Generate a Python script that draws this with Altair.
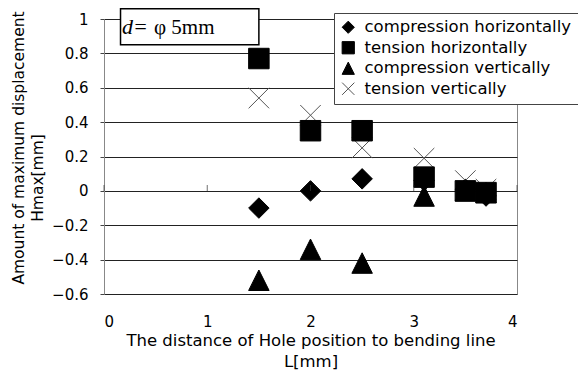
import altair as alt
import pandas as pd

# ---- data ----
L = [1.5, 2.0, 2.5, 3.1, 3.5, 3.7]
comp_h = [-0.10, 0.00, 0.07, 0.06, 0.01, -0.03]
tens_h = [0.77, 0.35, 0.35, 0.08, 0.00, -0.01]
comp_v = [-0.52, -0.34, -0.42, -0.03, 0.00, -0.01]
tens_v = [0.54, 0.44, 0.25, 0.19, 0.06, 0.01]

series = ["compression horizontally", "tension horizontally",
          "compression vertically", "tension vertically"]
x_ticks = [0, 1, 2, 3, 4]
y_ticks = [-0.6, -0.4, -0.2, 0, 0.2, 0.4, 0.6, 0.8, 1.0]

x_title = ["The distance of Hole position to bending line", "L[mm]"]
y_title1 = "Amount of maximum displacement"
y_title2 = "Hmax[mm]"

# annotation box "d = phi 5mm" (data coordinates)
note_box = {"x": [0.16], "x2": [1.50], "y": [1.06], "y2": [0.85]}

# ---- styling ----
shapes = ["M0,-1L1,0L0,1L-1,0Z", "M-1,-1H1V1H-1Z",
          "M0,-1L1,1L-1,1Z", "M-1,-1L1,1M1,-1L-1,1"]
fills = ["black", "black", "black", "transparent"]
strokes = ["black", "black", "black", "#555555"]
SANS = "DejaVu Sans"
FS = 15      # tick labels
FT = 16.5    # x title and legend
FY = 15.5    # y title

# draw order: diamonds, triangles, crosses, squares on top
rows = []
for name, vals in [(series[0], comp_h), (series[2], comp_v),
                   (series[3], tens_v), (series[1], tens_h)]:
    for l, v in zip(L, vals):
        rows.append({"L": l, "H": v, "series": name})
df = pd.DataFrame(rows)

leg = alt.Legend(orient="none", legendX=230, legendY=-6, title=None,
                 strokeColor="#444", fillColor="white", padding=6,
                 labelFont=SANS, labelFontSize=FT, labelColor="black",
                 labelLimit=400,
                 symbolSize=150, symbolStrokeWidth=1, rowPadding=3.5,
                 labelOffset=8, cornerRadius=0)

x_enc = alt.X("L:Q", scale=alt.Scale(domain=[0, 4], nice=False),
              axis=alt.Axis(values=x_ticks, tickCount=20, grid=False, ticks=False,
                            domain=False, labelPadding=20, format="~g", title=x_title,
                            labelOverlap=False,
                            titleFontWeight="normal", titleFont=SANS, titleFontSize=FT,
                            titleLineHeight=21, titlePadding=3, titleColor="black",
                            labelFont=SANS, labelFontSize=FS, labelColor="black"))
y_enc = alt.Y("H:Q", scale=alt.Scale(domain=[-0.6, 1.0], nice=False, zero=False),
              axis=alt.Axis(values=y_ticks, tickCount=20, grid=True, gridColor="#222",
                            gridWidth=1, tickSize=4, tickColor="#444", labelPadding=12,
                            format="~g", title=None, domainColor="#888",
                            labelOverlap=False,
                            labelFont=SANS, labelFontSize=FS, labelColor="black"))

points = alt.Chart(df).mark_point(size=420, opacity=1, strokeWidth=1).encode(
    x=x_enc, y=y_enc,
    shape=alt.Shape("series:N", scale=alt.Scale(domain=series, range=shapes), legend=leg),
    fill=alt.Fill("series:N", scale=alt.Scale(domain=series, range=fills), legend=leg),
    stroke=alt.Stroke("series:N", scale=alt.Scale(domain=series, range=strokes), legend=leg),
)

zero_ticks = alt.Chart(pd.DataFrame({"L": x_ticks, "H": [0] * len(x_ticks)})).mark_tick(
    orient="vertical", size=6, yOffset=-3, thickness=1, color="#333").encode(
    x="L:Q", y="H:Q")

box = alt.Chart(pd.DataFrame(note_box)).mark_rect(
    fill="white", stroke="black", strokeWidth=1.5).encode(
    x="x:Q", x2="x2:Q", y="y:Q", y2="y2:Q")

one = pd.DataFrame({"a": [0]})
t_d = alt.Chart(one).mark_text(font="Liberation Serif", fontStyle="italic", fontSize=22,
                               align="left", baseline="alphabetic").encode(
    x=alt.value(18), y=alt.value(15), text=alt.value("d="))
t_phi = alt.Chart(one).mark_text(font="Liberation Serif", fontSize=21,
                                 align="left", baseline="alphabetic").encode(
    x=alt.value(50), y=alt.value(15), text=alt.value("φ 5mm"))

yt1 = alt.Chart(one).mark_text(font=SANS, fontSize=FY, angle=270, align="center",
                               baseline="middle", color="black").encode(
    x=alt.value(-85), y=alt.value(129), text=alt.value(y_title1))
yt2 = alt.Chart(one).mark_text(font=SANS, fontSize=FY, angle=270, align="center",
                               baseline="middle", color="black").encode(
    x=alt.value(-66), y=alt.value(159), text=alt.value(y_title2))

chart = alt.layer(points, zero_ticks, box, t_d, t_phi, yt1, yt2).properties(
    width=413, height=275,
    autosize=alt.AutoSizeParams(type="none"),
    padding={"left": 96, "top": 11, "right": 61, "bottom": 76},
).configure_view(stroke="#888", strokeWidth=1)

chart.save("out.html", embed_options={"renderer": "svg", "actions": False})
